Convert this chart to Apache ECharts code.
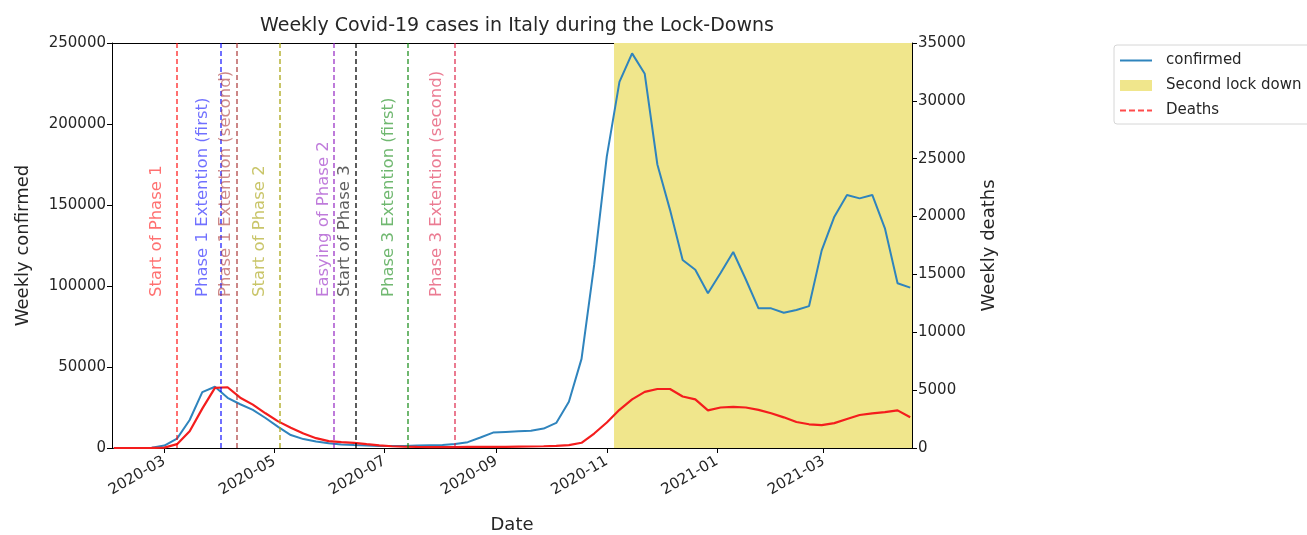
<!DOCTYPE html>
<html>
<head>
<meta charset="utf-8">
<script src="https://cdn.jsdelivr.net/npm/echarts@6/dist/echarts.min.js"></script>
<style>
  html, body { margin: 0; padding: 0; background: #ffffff; }
  #chart { width: 1307px; height: 535px; }
</style>
</head>
<body>
<div id="chart"></div>
<script>
// ---- data -------------------------------------------------------------
const chartTitle = 'Weekly Covid-19 cases in Italy during the Lock-Downs';

// week-ending dates (Sundays)
const weeks = [
  '2020-02-02','2020-02-09','2020-02-16','2020-02-23','2020-03-01','2020-03-08','2020-03-15','2020-03-22',
  '2020-03-29','2020-04-05','2020-04-12','2020-04-19','2020-04-26','2020-05-03','2020-05-10','2020-05-17',
  '2020-05-24','2020-05-31','2020-06-07','2020-06-14','2020-06-21','2020-06-28','2020-07-05','2020-07-12',
  '2020-07-19','2020-07-26','2020-08-02','2020-08-09','2020-08-16','2020-08-23','2020-08-30','2020-09-06',
  '2020-09-13','2020-09-20','2020-09-27','2020-10-04','2020-10-11','2020-10-18','2020-10-25','2020-11-01',
  '2020-11-08','2020-11-15','2020-11-22','2020-11-29','2020-12-06','2020-12-13','2020-12-20','2020-12-27',
  '2021-01-03','2021-01-10','2021-01-17','2021-01-24','2021-01-31','2021-02-07','2021-02-14','2021-02-21',
  '2021-02-28','2021-03-07','2021-03-14','2021-03-21','2021-03-28','2021-04-04','2021-04-11','2021-04-18'
];

const confirmed = [
  0, 0, 3, 150, 1500, 5800, 17300, 34500,
  37800, 31000, 27000, 23500, 18500, 13000, 8000, 5500,
  4000, 3000, 2200, 1800, 1500, 1300, 1300, 1200,
  1500, 1700, 1900, 2500, 3600, 6500, 9500, 9900,
  10300, 10600, 12000, 15500, 28600, 55000, 113000, 180000,
  226000, 243600, 231000, 175000, 147000, 116000, 110000, 95500,
  108000, 121000, 104000, 86200, 86200, 83500, 85200, 87600,
  122000, 142800, 156200, 154100, 156200, 135600, 101700, 99000
];

const deaths = [
  0, 0, 0, 3, 35, 330, 1450, 3400,
  5200, 5250, 4350, 3750, 3000, 2300, 1750, 1250,
  850, 600, 500, 450, 330, 220, 150, 110,
  90, 80, 80, 80, 90, 100, 110, 100,
  120, 130, 150, 180, 250, 450, 1250, 2200,
  3300, 4200, 4850, 5100, 5100, 4450, 4200, 3250,
  3500, 3550, 3500, 3300, 3000, 2650, 2250, 2050,
  1980, 2150, 2500, 2850, 3000, 3100, 3250, 2650
];

// restriction milestones
const phaseNames = [
  'Start of Phase 1', 'Phase 1 Extention (first)', 'Phase 1 Extention (second)', 'Start of Phase 2',
  'Easying of Phase 2', 'Start of Phase 3', 'Phase 3 Extention (first)', 'Phase 3 Extention (second)'
];
const phaseDates = [
  '2020-03-08', '2020-04-01', '2020-04-10', '2020-05-04',
  '2020-06-03', '2020-06-15', '2020-07-14', '2020-08-09'
];

// second lock down period
const lockdownStart = '2020-11-05';
const lockdownEnd = '2021-04-19';

// axis ranges and ticks
const dateMin = '2020-02-01';
const dateMax = '2021-04-19';
const dateTicks = ['2020-03-01', '2020-05-01', '2020-07-01', '2020-09-01', '2020-11-01', '2021-01-01', '2021-03-01'];
const confirmedAxis = { min: 0, max: 250000, interval: 50000 };
const deathsAxis = { min: 0, max: 35000, interval: 5000 };

// ---- styling / layout ---------------------------------------------------
const FONT = 'DejaVu Sans';
const TEXT = '#262626';
const BLUE = '#2f84bd';
const RED = '#f41d1d';
const KHAKI = '#f0e68c';
const phaseColors = [
  'rgba(255,0,0,0.7)', 'rgba(0,0,255,0.7)', 'rgba(165,42,42,0.7)', 'rgba(170,165,20,0.8)',
  'rgba(140,20,190,0.7)', 'rgba(0,0,0,0.8)', 'rgba(0,128,0,0.7)', 'rgba(220,20,60,0.7)'
];
const labelShiftDays = [-11, -10, -6, -11, -6, -6, -11, -10];
const labelBaseValue = 93200;   // bottom of the rotated milestone captions (left axis units)
const DAY = 86400000;

// legend glyphs: a plain stroke and a dashed stroke
const ICON_LINE = 'path://M0,0h32v2h-32z';
const ICON_DASH = 'path://M0,0h6v2h-6zM9,0h6v2h-6zM18,0h6v2h-6zM27,0h5v2h-5z';

const ts = s => { const p = s.split('-').map(Number); return new Date(p[0], p[1] - 1, p[2]).getTime(); };
const pad2 = n => (n < 10 ? '0' : '') + n;

const weekTs = weeks.map(ts);
const confirmedData = weekTs.map((t, i) => [t, confirmed[i]]);
const deathsData = weekTs.map((t, i) => [t, deaths[i]]);
const tickTs = dateTicks.map(ts);

const phaseLines = phaseDates.map((d, i) => ({
  xAxis: ts(d),
  lineStyle: { color: phaseColors[i] }
}));
const phaseLabels = phaseDates.map((d, i) => ({
  value: [ts(d) + labelShiftDays[i] * DAY, labelBaseValue],
  name: phaseNames[i],
  label: { color: phaseColors[i] }
}));

const chart = echarts.init(document.getElementById('chart'), null, { renderer: 'canvas' });

const valueAxisBase = {
  type: 'value',
  splitLine: { show: false },
  axisLine: { show: true, onZero: false, lineStyle: { color: '#000', width: 1 } },
  axisTick: { show: true, length: 5, lineStyle: { color: '#000' } },
  axisLabel: { fontSize: 15, color: TEXT, fontFamily: FONT, margin: 6, formatter: v => String(v) },
  nameLocation: 'middle',
  nameTextStyle: { fontSize: 18, color: TEXT, fontFamily: FONT }
};

// dates are plotted as timestamps on a linear axis so the month ticks can be placed exactly
chart.setOption({
  animation: false,
  backgroundColor: '#ffffff',
  textStyle: { fontFamily: FONT },
  title: {
    text: chartTitle,
    left: 512,
    top: 12,
    textAlign: 'center',
    textStyle: { fontSize: 19, fontWeight: 'normal', color: TEXT, fontFamily: FONT }
  },
  legend: {
    orient: 'vertical',
    left: 1114,
    top: 45,
    padding: [8, 60, 6, 6],
    itemGap: 10,
    itemWidth: 32,
    itemHeight: 11,
    backgroundColor: '#ffffff',
    borderColor: '#d6d6d6',
    borderWidth: 1,
    borderRadius: 3,
    selectedMode: false,
    textStyle: { fontSize: 15, color: TEXT, fontFamily: FONT, padding: [0, 0, 0, 9] },
    data: [
      { name: 'confirmed', icon: ICON_LINE, itemStyle: { color: BLUE } },
      { name: 'Second lock down', icon: 'rect', itemStyle: { color: KHAKI } },
      { name: 'Deaths', icon: ICON_DASH, itemStyle: { color: 'rgba(255,0,0,0.7)' } }
    ]
  },
  grid: { left: 112, right: 395, top: 43, bottom: 87, containLabel: false, outerBoundsMode: 'none' },
  xAxis: [
    {
      type: 'value',
      min: ts(dateMin),
      max: ts(dateMax),
      splitLine: { show: false },
      axisLine: { show: true, onZero: false, lineStyle: { color: '#000', width: 1 } },
      axisTick: { show: true, length: 5, customValues: tickTs, lineStyle: { color: '#000' } },
      axisLabel: {
        customValues: tickTs,
        rotate: 30,
        fontSize: 15,
        color: TEXT,
        fontFamily: FONT,
        margin: 12,
        formatter: v => { const d = new Date(v); return d.getFullYear() + '-' + pad2(d.getMonth() + 1); }
      },
      name: 'Date',
      nameLocation: 'middle',
      nameGap: 68,
      nameTextStyle: { fontSize: 18, color: TEXT, fontFamily: FONT }
    },
    {
      type: 'value',
      position: 'top',
      min: ts(dateMin),
      max: ts(dateMax),
      splitLine: { show: false },
      axisLine: { show: true, onZero: false, lineStyle: { color: '#000', width: 1 } },
      axisTick: { show: false },
      axisLabel: { show: false }
    }
  ],
  yAxis: [
    Object.assign({}, valueAxisBase, confirmedAxis, {
      position: 'left',
      name: 'Weekly confirmed',
      nameGap: 80
    }),
    Object.assign({}, valueAxisBase, deathsAxis, {
      position: 'right',
      name: 'Weekly deaths',
      nameGap: 68
    })
  ],
  series: [
    {
      name: 'Second lock down',
      type: 'line',
      data: [],
      color: KHAKI,
      xAxisIndex: 0,
      yAxisIndex: 0,
      z: 1,
      markArea: {
        silent: true,
        itemStyle: { color: KHAKI },
        data: [[{ xAxis: ts(lockdownStart) }, { xAxis: ts(lockdownEnd) }]]
      }
    },
    {
      name: 'confirmed',
      type: 'line',
      data: confirmedData,
      xAxisIndex: 0,
      yAxisIndex: 0,
      symbol: 'none',
      color: BLUE,
      lineStyle: { width: 2, color: BLUE },
      z: 3
    },
    {
      name: 'Deaths',
      type: 'line',
      data: deathsData,
      xAxisIndex: 0,
      yAxisIndex: 1,
      symbol: 'none',
      color: RED,
      lineStyle: { width: 2.2, color: RED },
      z: 4
    },
    {
      name: 'milestones',
      type: 'line',
      data: [],
      xAxisIndex: 0,
      yAxisIndex: 0,
      z: 5,
      markLine: {
        silent: true,
        symbol: ['none', 'none'],
        label: { show: false },
        lineStyle: { type: [5, 3], width: 1.6 },
        data: phaseLines
      }
    },
    {
      name: 'milestone captions',
      type: 'scatter',
      data: phaseLabels,
      xAxisIndex: 0,
      yAxisIndex: 0,
      symbolSize: 0,
      silent: true,
      z: 6,
      label: {
        show: true,
        position: 'inside',
        rotate: 90,
        align: 'left',
        verticalAlign: 'middle',
        fontSize: 16.5,
        fontFamily: FONT,
        formatter: p => p.name
      }
    }
  ]
});
</script>
</body>
</html>
